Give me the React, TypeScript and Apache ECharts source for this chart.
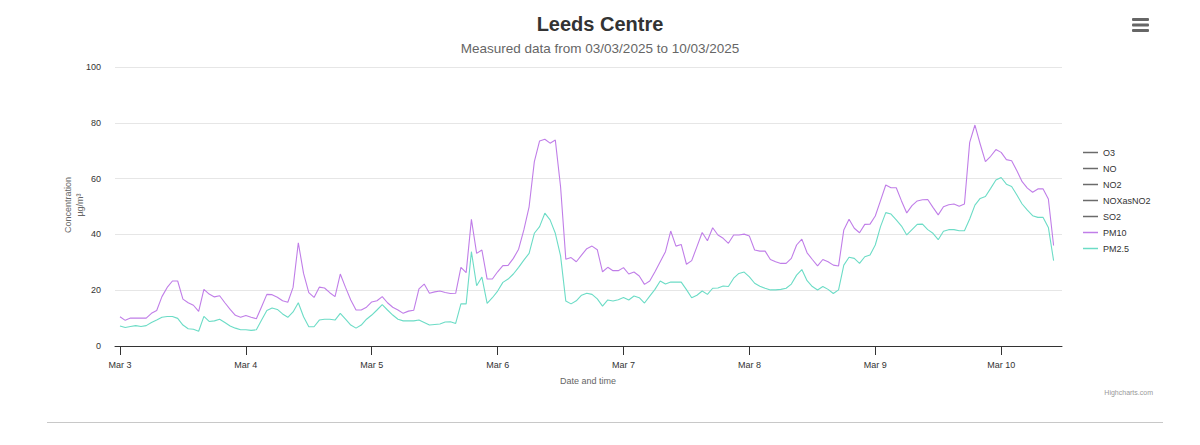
import React, { useEffect, useRef } from "react";
import * as echarts from "echarts";

const TITLE = "Leeds Centre";
const SUBTITLE = "Measured data from 03/03/2025 to 10/03/2025";
const DAY_LABELS = ["Mar 3", "Mar 4", "Mar 5", "Mar 6", "Mar 7", "Mar 8", "Mar 9", "Mar 10"];
const DAY_TICKS = [0, 24, 48, 72, 96, 120, 144, 168];
const EMPTY_SERIES = ["O3", "NO", "NO2", "NOXasNO2", "SO2"];

// hourly values from 03/03/2025 00:00
const PM10 = [
  10.5, 9.2, 10, 10, 10, 10, 11.7, 12.7, 17.7, 21, 23.3, 23.3, 16.8, 15.5, 14.6, 12.4, 20.3, 18.6, 17.6, 18, 15.5, 13.1, 11, 10.3,
  10.9, 10.3, 9.8, 14.1, 18.5, 18.4, 17.5, 16.2, 15.7, 21, 37, 26, 19.1, 17.4, 21.1, 20.8, 19.1, 17.7, 25.8, 21, 16.5, 12.9, 12.9, 13.9,
  15.8, 16.2, 17.7, 15.5, 13.9, 12.9, 11.7, 12.5, 12.8, 20.5, 22.2, 18.9, 19.4, 19.7, 19.2, 18.8, 18.9, 28.2, 26.3, 45.4, 33.2, 34.4, 24, 24,
  26.6, 28.8, 28.9, 31.4, 34.7, 41.6, 49.9, 66.1, 73.5, 74.1, 72.7, 73.8, 57.1, 31.1, 31.7, 30.2, 32.6, 34.9, 35.8, 34.5, 26.6, 28.2, 27, 27,
  28.1, 25.8, 26.5, 25.1, 22.1, 23.3, 26.6, 30.2, 33.8, 41.2, 35.8, 36.4, 29.3, 30.6, 35.6, 40.7, 37.7, 42.4, 39.8, 38.6, 36.8, 39.8, 39.8, 40.1,
  39.4, 34.4, 34, 34, 31, 30.2, 29.6, 29.6, 31.4, 36.2, 38.3, 33.4, 31, 28.7, 31, 30.2, 29, 28.7, 41.6, 45.4, 42.2, 40.6, 43.6, 43.7,
  46.6, 52.1, 57.7, 56.7, 56.7, 52, 47.7, 50.3, 52, 52.4, 52.5, 49.7, 47, 49.9, 50.6, 50.9, 50.1, 50.9, 73, 79.2, 72.4, 66.1, 68, 70.4,
  69.4, 66.8, 66.4, 62.8, 58.9, 56.6, 55.1, 56.3, 56.3, 52.7, 36,
];

const PM25 = [
  7.2, 6.6, 7, 7.3, 7, 7.3, 8.4, 9.3, 10.3, 10.6, 10.6, 9.9, 7.5, 6.2, 6, 5.3, 10.6, 8.8, 9, 9.6, 8.4, 7.2, 6.4, 5.8,
  5.8, 5.6, 5.8, 9.3, 12.7, 13.6, 13.1, 11.5, 10.3, 12.2, 15.5, 10.5, 6.9, 6.9, 9.3, 9.6, 9.6, 9.3, 11.7, 9.6, 7.5, 6.4, 7.5, 9.6,
  11.1, 12.9, 14.8, 12.9, 11.1, 9.6, 9, 9, 9, 9.3, 8.4, 7.5, 7.7, 7.9, 8.6, 8.7, 8.1, 15.1, 15.1, 33.8, 21.6, 24.7, 15.3, 17.3,
  19.7, 22.8, 24, 25.8, 28.2, 30.8, 33.2, 40.4, 42.8, 47.6, 45.2, 40.4, 32.3, 16.1, 15.1, 16.2, 18.2, 18.9, 18.5, 16.9, 14.3, 16.5, 16.1, 16.6,
  17.4, 16.5, 17.9, 17.3, 15.4, 17.9, 20.3, 23.3, 22.2, 22.9, 22.9, 22.9, 20.2, 17.3, 18.2, 19.7, 18.5, 20.7, 20.8, 21.5, 21.3, 24.3, 26, 26.5,
  24.8, 22.5, 21.4, 20.7, 20.1, 20.1, 20.3, 20.7, 22.2, 25.4, 27.4, 23.4, 21.3, 20.1, 21.3, 20.3, 18.8, 20.1, 29, 31.8, 31.4, 29.6, 32, 32.6,
  36.2, 42.8, 47.8, 47.3, 45.2, 43, 39.8, 41.7, 43.6, 43.7, 41.7, 40.4, 38.1, 41.1, 41.7, 41.7, 41.3, 41.3, 45.5, 50.5, 52.9, 53.6, 56.5, 59.5,
  60.4, 58, 57.2, 54.1, 50.9, 48.7, 46.7, 46.1, 46.1, 42.5, 30.6,
];

const PM10_COLOR = "#c07ee8";
const PM25_COLOR = "#6cdcc6";
const FONT = "Helvetica, 'Liberation Sans', Arial, sans-serif";

function hourly(values: number[]) {
  return values.map((v, i) => [i, v]);
}

export default function App() {
  const ref = useRef<HTMLDivElement>(null);
  useEffect(() => {
    document.body.style.margin = "0";
    if (!ref.current) return;
    const chart = echarts.init(ref.current, undefined, { renderer: "svg" });
    const emptySeries = EMPTY_SERIES.map((name) => ({
      name,
      type: "line" as const,
      data: [] as number[][],
      color: "#6b6b6b",
      showSymbol: false,
      lineStyle: { width: 1.1 },
    }));
    chart.setOption({
      animation: false,
      textStyle: { fontFamily: FONT },
      title: [
        {
          text: TITLE,
          left: "center",
          top: 9,
          textStyle: { fontSize: 20, fontWeight: "bold", color: "#333333", fontFamily: FONT },
        },
        {
          text: SUBTITLE,
          left: "center",
          top: 36,
          textStyle: { fontSize: 13.5, fontWeight: "normal", color: "#666666", fontFamily: FONT },
        },
      ],
      legend: {
        orient: "vertical",
        left: 1078,
        top: 143,
        itemWidth: 15,
        itemHeight: 1.5,
        itemGap: 7,
        icon: "rect",
        textStyle: { fontSize: 9, color: "#333333", fontFamily: FONT },
        data: [...EMPTY_SERIES, "PM10", "PM2.5"],
      },
      grid: { left: 115, right: 138, top: 67, bottom: 99 },
      xAxis: {
        type: "value",
        min: -0.95,
        max: 179.6,
        axisLine: { show: true, lineStyle: { color: "#333333", width: 1 } },
        axisTick: { show: true, length: 9, lineStyle: { color: "#333333" }, customValues: DAY_TICKS },
        axisLabel: {
          customValues: DAY_TICKS,
          formatter: (v: number) => DAY_LABELS[DAY_TICKS.indexOf(Math.round(v))] ?? "",
          fontSize: 9,
          color: "#333333",
          margin: 14,
          fontFamily: FONT,
        },
        splitLine: { show: false },
      },
      yAxis: {
        type: "value",
        min: 0,
        max: 100,
        interval: 20,
        axisLine: { show: false },
        axisTick: { show: false },
        axisLabel: { fontSize: 9, color: "#333333", margin: 14, fontFamily: FONT },
        splitLine: { lineStyle: { color: "#e6e6e6", width: 1 } },
      },
      series: [
        ...emptySeries,
        {
          name: "PM10",
          type: "line",
          data: hourly(PM10),
          color: PM10_COLOR,
          showSymbol: false,
          lineStyle: { width: 1.1 },
        },
        {
          name: "PM2.5",
          type: "line",
          data: hourly(PM25),
          color: PM25_COLOR,
          showSymbol: false,
          lineStyle: { width: 1.1 },
        },
      ],
      graphic: [
        {
          type: "text",
          x: 74,
          y: 205,
          rotation: Math.PI / 2,
          style: {
            text: "Concentration\nµg/m³",
            fontSize: 9,
            fill: "#666666",
            align: "center",
            verticalAlign: "middle",
            lineHeight: 12,
            fontFamily: FONT,
          },
        },
        {
          type: "text",
          x: 588,
          y: 381,
          style: {
            text: "Date and time",
            fontSize: 9,
            fill: "#666666",
            align: "center",
            verticalAlign: "middle",
            fontFamily: FONT,
          },
        },
        {
          type: "text",
          x: 1153,
          y: 392,
          style: {
            text: "Highcharts.com",
            fontSize: 7,
            fill: "#999999",
            align: "right",
            verticalAlign: "middle",
            fontFamily: FONT,
          },
        },
        { type: "rect", shape: { x: 1132, y: 18, width: 17, height: 3, r: 1 }, style: { fill: "#666666" } },
        { type: "rect", shape: { x: 1132, y: 23.5, width: 17, height: 3, r: 1 }, style: { fill: "#666666" } },
        { type: "rect", shape: { x: 1132, y: 29, width: 17, height: 3, r: 1 }, style: { fill: "#666666" } },
        {
          type: "line",
          shape: { x1: 47, y1: 422.5, x2: 1163, y2: 422.5 },
          style: { stroke: "#c8c8c8", lineWidth: 1 },
        },
      ],
    });
    return () => chart.dispose();
  }, []);
  return <div ref={ref} style={{ width: 1200, height: 445 }} />;
}
